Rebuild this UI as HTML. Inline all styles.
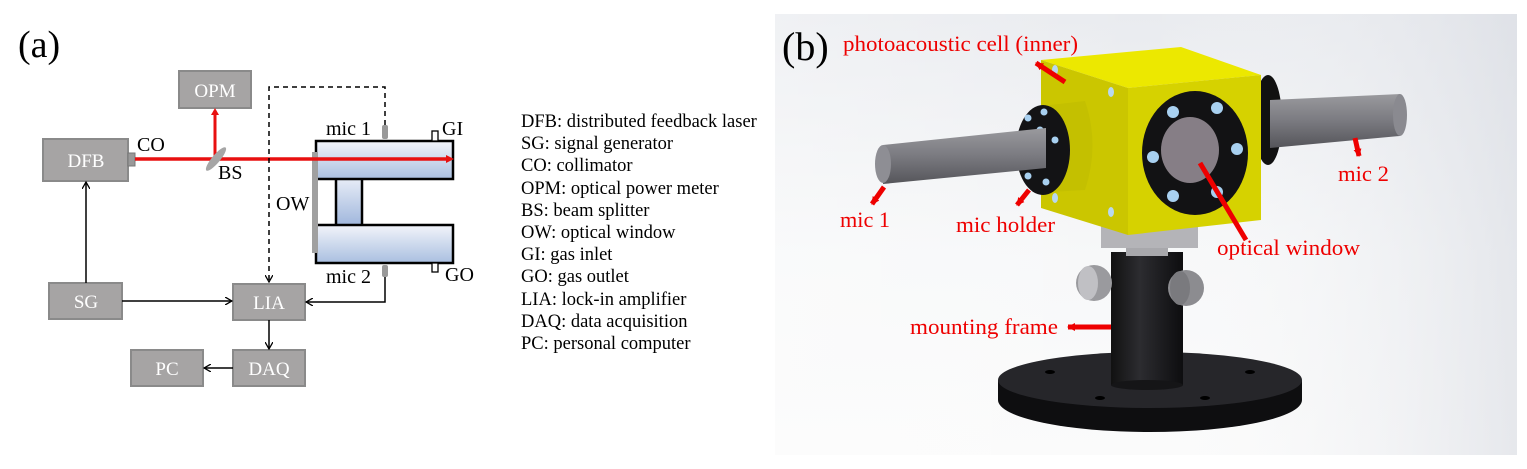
<!DOCTYPE html>
<html><head><meta charset="utf-8"><style>
html,body{margin:0;padding:0;background:#fff;}
svg{display:block}
text{font-family:"Liberation Serif",serif;}
</style></head><body>
<svg width="1527" height="469" viewBox="0 0 1527 469" xmlns="http://www.w3.org/2000/svg">
<defs>
<linearGradient id="tube" x1="0" y1="0" x2="0" y2="1">
<stop offset="0" stop-color="#f2f4fa"/><stop offset="1" stop-color="#a9bfe0"/></linearGradient>
<linearGradient id="tubev" x1="0" y1="0" x2="0" y2="1">
<stop offset="0" stop-color="#e8edf7"/><stop offset="1" stop-color="#9fb6dc"/></linearGradient>
<linearGradient id="bg" x1="0" y1="0" x2="0" y2="1">
<stop offset="0" stop-color="#e9ebef"/><stop offset="0.55" stop-color="#f7f8f9"/><stop offset="1" stop-color="#fbfbfb"/></linearGradient>
<linearGradient id="bgh" x1="0" y1="0" x2="1" y2="0">
<stop offset="0" stop-color="#fff" stop-opacity="0.3"/><stop offset="0.5" stop-color="#fff" stop-opacity="0"/><stop offset="1" stop-color="#d8dbe2" stop-opacity="0.6"/></linearGradient>
<linearGradient id="rod" x1="0" y1="0" x2="0" y2="1">
<stop offset="0" stop-color="#9a9a9e"/><stop offset="0.5" stop-color="#7a7a80"/><stop offset="1" stop-color="#55555a"/></linearGradient>
<linearGradient id="post" x1="0" y1="0" x2="1" y2="0">
<stop offset="0" stop-color="#111"/><stop offset="0.4" stop-color="#2c2c30"/><stop offset="1" stop-color="#0d0d0f"/></linearGradient>
<marker id="ah" markerWidth="8" markerHeight="8" refX="7" refY="4" orient="auto" markerUnits="userSpaceOnUse">
<path d="M0,0 L7,4 L0,8" fill="none" stroke="#000" stroke-width="1.3"/></marker>
<marker id="rh" markerWidth="8" markerHeight="8" refX="7" refY="4" orient="auto" markerUnits="userSpaceOnUse">
<path d="M0,0 L8,4 L0,8 z" fill="#e00"/></marker>
</defs>

<!-- (a) -->
<text x="18" y="57" font-size="38">(a)</text>
<g stroke="#8a8a8a">
<rect x="179" y="71" width="72" height="37" fill="#a6a4a4" stroke-width="2"/>
<rect x="43" y="139" width="85" height="42" fill="#a6a4a4" stroke-width="2"/>
<rect x="49" y="283" width="73" height="36" fill="#a6a4a4" stroke-width="2"/>
<rect x="233" y="284" width="72" height="36" fill="#a6a4a4" stroke-width="2"/>
<rect x="233" y="350" width="72" height="36" fill="#a6a4a4" stroke-width="2"/>
<rect x="131" y="350" width="72" height="36" fill="#a6a4a4" stroke-width="2"/>
</g>
<g font-size="19" fill="#fff" text-anchor="middle">
<text x="215" y="97">OPM</text><text x="86" y="167">DFB</text><text x="86" y="308">SG</text>
<text x="269" y="309">LIA</text><text x="269" y="375">DAQ</text><text x="167" y="375">PC</text>
</g>
<rect x="128" y="153" width="7" height="13" fill="#999" stroke="#777"/>
<!-- cell -->
<rect x="336" y="178" width="26" height="48" fill="url(#tubev)" stroke="#000" stroke-width="2.5"/>
<rect x="316" y="141" width="137" height="38" fill="url(#tube)" stroke="#000" stroke-width="2.5"/>
<rect x="316" y="225" width="137" height="38" fill="url(#tube)" stroke="#000" stroke-width="2.5"/>
<rect x="312" y="152" width="6" height="101" fill="#a0a0a0"/>
<rect x="382" y="125" width="6" height="14" rx="2" fill="#999"/>
<rect x="382" y="265" width="6" height="12" rx="2" fill="#999"/>
<rect x="432" y="131" width="6" height="10" fill="#fff" stroke="#000" stroke-width="1.3"/>
<rect x="432" y="263" width="6" height="9" fill="#fff" stroke="#000" stroke-width="1.3"/>
<!-- beam -->
<line x1="135" y1="159" x2="446" y2="159" stroke="#e81010" stroke-width="3.5"/>
<path d="M446,155 L454,159 L446,163 z" fill="#e81010"/>
<line x1="215" y1="159" x2="215" y2="114" stroke="#e81010" stroke-width="3"/>
<path d="M211,115 L215,108 L219,115 z" fill="#e81010"/>
<ellipse cx="216" cy="159" rx="4" ry="15" transform="rotate(40 216 159)" fill="#a6a6a6"/>
<!-- lines -->
<path d="M385,125 V87 H269 V282" fill="none" stroke="#000" stroke-width="1.5" stroke-dasharray="5,4" marker-end="url(#ah)"/>
<line x1="86" y1="283" x2="86" y2="182" stroke="#000" stroke-width="1.5" marker-end="url(#ah)"/>
<line x1="122" y1="301" x2="232" y2="301" stroke="#000" stroke-width="1.5" marker-end="url(#ah)"/>
<path d="M385,277 V302 H306" fill="none" stroke="#000" stroke-width="1.5" marker-end="url(#ah)"/>
<line x1="269" y1="320" x2="269" y2="349" stroke="#000" stroke-width="1.5" marker-end="url(#ah)"/>
<line x1="233" y1="368" x2="204" y2="368" stroke="#000" stroke-width="1.5" marker-end="url(#ah)"/>
<g font-size="20" fill="#000">
<text x="137" y="151">CO</text><text x="218" y="179">BS</text>
<text x="326" y="135">mic 1</text><text x="442" y="135">GI</text>
<text x="276" y="210">OW</text>
<text x="326" y="283">mic 2</text><text x="445" y="281">GO</text>
</g>
<g font-size="18.5" fill="#000">
<text x="521" y="127">DFB: distributed feedback laser</text>
<text x="521" y="149">SG: signal generator</text>
<text x="521" y="171">CO: collimator</text>
<text x="521" y="194">OPM: optical power meter</text>
<text x="521" y="216">BS: beam splitter</text>
<text x="521" y="238">OW: optical window</text>
<text x="521" y="260">GI: gas inlet</text>
<text x="521" y="282">GO: gas outlet</text>
<text x="521" y="305">LIA: lock-in amplifier</text>
<text x="521" y="327">DAQ: data acquisition</text>
<text x="521" y="349">PC: personal computer</text>
</g>

<!-- (b) panel -->
<rect x="775" y="14" width="742" height="441" fill="url(#bg)"/>
<rect x="775" y="14" width="742" height="441" fill="url(#bgh)"/>
<!-- base -->
<ellipse cx="1150" cy="400" rx="152" ry="32" fill="#0e0e10"/>
<rect x="998" y="380" width="304" height="20" fill="#0e0e10"/>
<ellipse cx="1150" cy="380" rx="152" ry="28" fill="#26262a"/>
<ellipse cx="1050" cy="372" rx="5" ry="2" fill="#000"/><ellipse cx="1250" cy="372" rx="5" ry="2" fill="#000"/>
<ellipse cx="1100" cy="398" rx="5" ry="2" fill="#000"/><ellipse cx="1205" cy="398" rx="5" ry="2" fill="#000"/>
<!-- post -->
<rect x="1111" y="252" width="72" height="133" fill="url(#post)"/>
<ellipse cx="1147" cy="385" rx="36" ry="5" fill="#151517"/>
<rect x="1126" y="238" width="42" height="18" fill="#a8a8ac"/>
<ellipse cx="1094" cy="283" rx="18" ry="18" fill="#9a9a9e"/>
<ellipse cx="1088" cy="283" rx="10" ry="17" fill="#c0c0c4"/>
<ellipse cx="1186" cy="288" rx="18" ry="18" fill="#8c8c90"/>
<ellipse cx="1180" cy="288" rx="10" ry="17" fill="#7a7a7e"/>
<!-- block under cube -->
<rect x="1101" y="225" width="97" height="23" fill="#b4b4b8"/>
<!-- right rod -->
<ellipse cx="1268" cy="120" rx="14" ry="45" fill="#111"/>
<path d="M1270,100 L1400,94 L1400,136 L1270,148 z" fill="url(#rod)"/>
<ellipse cx="1400" cy="115" rx="7" ry="21" fill="#8a8a90"/>
<!-- cube -->
<path d="M1041,60 L1181,47 L1261,75 L1128,88 z" fill="#ece800"/>
<path d="M1041,60 L1128,88 L1128,235 L1041,208 z" fill="#cbc600"/>
<path d="M1128,88 L1261,75 L1261,220 L1128,235 z" fill="#d6d200"/>
<ellipse cx="1055" cy="70" rx="3" ry="5" fill="#b8d8f0"/>
<ellipse cx="1111" cy="92" rx="3" ry="5" fill="#b8d8f0"/>
<ellipse cx="1111" cy="212" rx="3" ry="5" fill="#b8d8f0"/>
<ellipse cx="1055" cy="198" rx="3" ry="5" fill="#b8d8f0"/>
<!-- front ring -->
<ellipse cx="1195" cy="153" rx="53" ry="62" fill="#121214"/>
<ellipse cx="1190" cy="150" rx="29" ry="33" fill="#867e86"/>
<g fill="#a8d0f0">
<circle cx="1173" cy="112" r="6"/><circle cx="1217" cy="108" r="6"/><circle cx="1237" cy="149" r="6"/>
<circle cx="1153" cy="157" r="6"/><circle cx="1173" cy="196" r="6"/><circle cx="1217" cy="192" r="6"/></g>
<!-- left boss + flange + rod -->
<path d="M1050,105 L1085,101 Q1100,145 1085,190 L1050,192 z" fill="#c4c000"/>
<ellipse cx="1043" cy="150" rx="27" ry="45" fill="#131315"/>
<g fill="#a8d0f0"><circle cx="1028" cy="118" r="3.5"/><circle cx="1044" cy="112" r="3.5"/><circle cx="1055" cy="140" r="3.5"/><circle cx="1046" cy="182" r="3.5"/><circle cx="1028" cy="176" r="3.5"/><circle cx="1040" cy="130" r="3.5"/></g>
<path d="M883,145 L1046,128 L1046,168 L883,184 z" fill="url(#rod)"/>
<ellipse cx="883" cy="164" rx="8" ry="19" fill="#8e8e94"/>
<!-- labels -->
<text x="782" y="60" font-size="40" fill="#000">(b)</text>
<g fill="#e00" font-size="22">
<text x="843" y="51" textLength="235" lengthAdjust="spacingAndGlyphs">photoacoustic cell (inner)</text>
<text x="840" y="227" textLength="50" lengthAdjust="spacingAndGlyphs">mic 1</text>
<text x="956" y="232" textLength="99" lengthAdjust="spacingAndGlyphs">mic holder</text>
<text x="1217" y="255" textLength="143" lengthAdjust="spacingAndGlyphs">optical window</text>
<text x="1338" y="181" textLength="51" lengthAdjust="spacingAndGlyphs">mic 2</text>
<text x="910" y="334" textLength="148" lengthAdjust="spacingAndGlyphs">mounting frame</text>
</g>
<g stroke="#e00" stroke-width="5" marker-end="url(#rh)">
<line x1="1065" y1="82" x2="1036" y2="63"/>
<line x1="884" y1="187" x2="872" y2="204"/>
<line x1="1029" y1="190" x2="1017" y2="205"/>
<line x1="1355" y1="138" x2="1359" y2="156"/>
<line x1="1111" y1="327" x2="1068" y2="327"/>
</g>
<line x1="1200" y1="163" x2="1246" y2="240" stroke="#e00" stroke-width="5"/>
</svg>
</body></html>
